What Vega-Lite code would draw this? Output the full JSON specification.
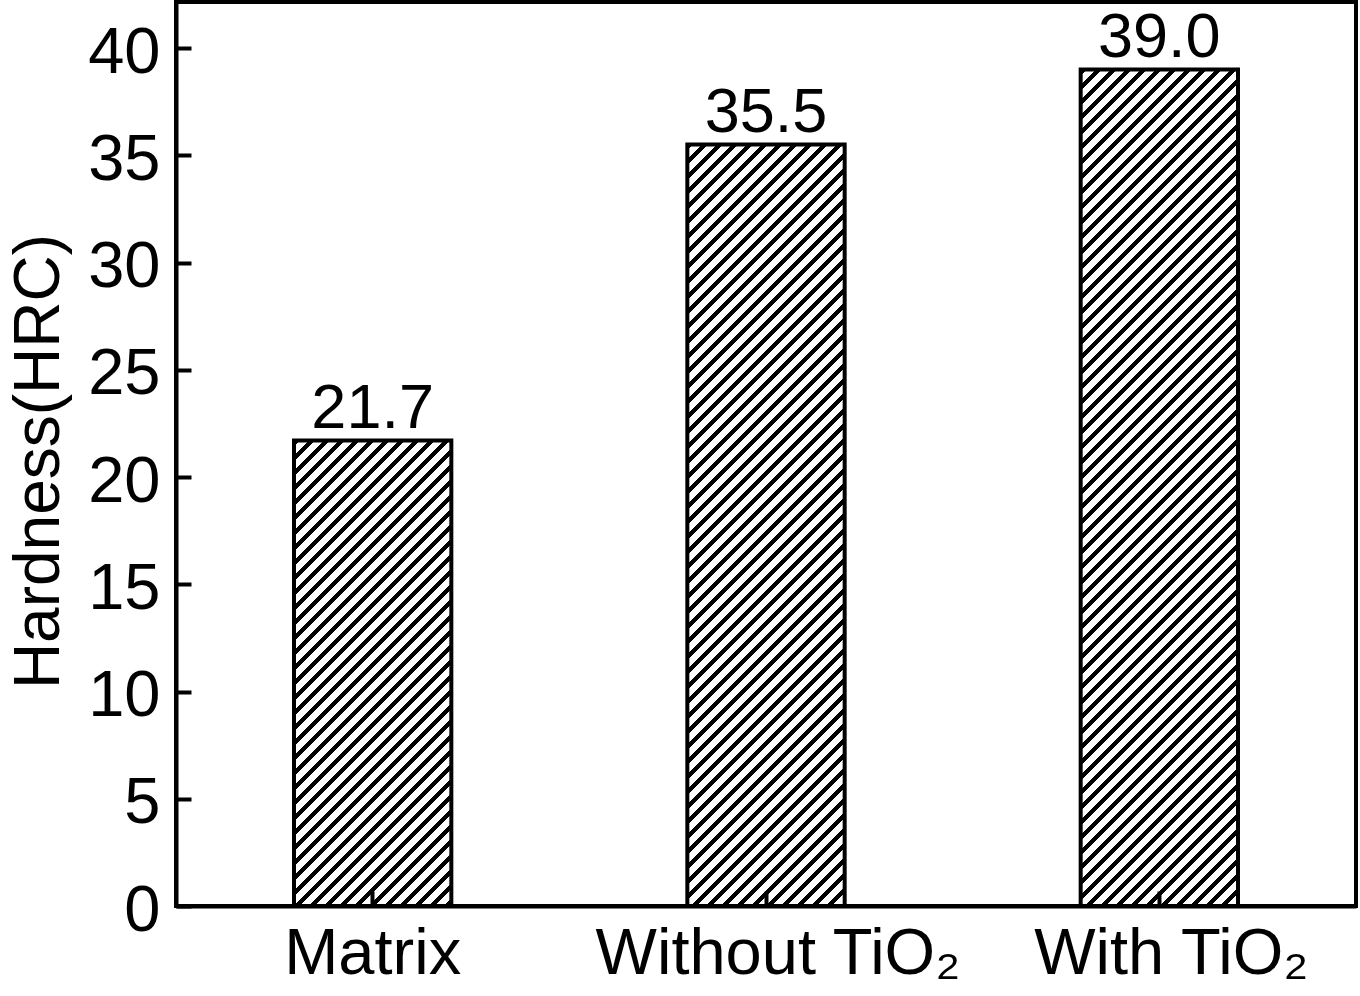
{
  "$schema": "https://vega.github.io/schema/vega-lite/v6.json",
  "autosize": {"type": "none"},
  "padding": {"left": 176, "top": 2, "right": 4, "bottom": 90},
  "width": 1180,
  "height": 904,
  "background": "white",
  "params": [
    {"name": "hatch", "value": [
      {"offset":0,"color":"#000"},{"offset":0.006,"color":"#000"},{"offset":0.006,"color":"#fff"},{"offset":0.015,"color":"#fff"},
      {"offset":0.015,"color":"#000"},{"offset":0.021,"color":"#000"},{"offset":0.021,"color":"#fff"},{"offset":0.03,"color":"#fff"},
      {"offset":0.03,"color":"#000"},{"offset":0.036,"color":"#000"},{"offset":0.036,"color":"#fff"},{"offset":0.045,"color":"#fff"},
      {"offset":0.045,"color":"#000"},{"offset":0.051,"color":"#000"},{"offset":0.051,"color":"#fff"},{"offset":0.06,"color":"#fff"},
      {"offset":0.06,"color":"#000"},{"offset":0.066,"color":"#000"},{"offset":0.066,"color":"#fff"},{"offset":0.075,"color":"#fff"},
      {"offset":0.075,"color":"#000"},{"offset":0.081,"color":"#000"},{"offset":0.081,"color":"#fff"},{"offset":0.09,"color":"#fff"},
      {"offset":0.09,"color":"#000"},{"offset":0.096,"color":"#000"},{"offset":0.096,"color":"#fff"},{"offset":0.105,"color":"#fff"},
      {"offset":0.105,"color":"#000"},{"offset":0.111,"color":"#000"},{"offset":0.111,"color":"#fff"},{"offset":0.12,"color":"#fff"},
      {"offset":0.12,"color":"#000"},{"offset":0.126,"color":"#000"},{"offset":0.126,"color":"#fff"},{"offset":0.135,"color":"#fff"},
      {"offset":0.135,"color":"#000"},{"offset":0.141,"color":"#000"},{"offset":0.141,"color":"#fff"},{"offset":0.15,"color":"#fff"},
      {"offset":0.15,"color":"#000"},{"offset":0.156,"color":"#000"},{"offset":0.156,"color":"#fff"},{"offset":0.165,"color":"#fff"},
      {"offset":0.165,"color":"#000"},{"offset":0.171,"color":"#000"},{"offset":0.171,"color":"#fff"},{"offset":0.18,"color":"#fff"},
      {"offset":0.18,"color":"#000"},{"offset":0.186,"color":"#000"},{"offset":0.186,"color":"#fff"},{"offset":0.195,"color":"#fff"},
      {"offset":0.195,"color":"#000"},{"offset":0.201,"color":"#000"},{"offset":0.201,"color":"#fff"},{"offset":0.21,"color":"#fff"},
      {"offset":0.21,"color":"#000"},{"offset":0.216,"color":"#000"},{"offset":0.216,"color":"#fff"},{"offset":0.225,"color":"#fff"},
      {"offset":0.225,"color":"#000"},{"offset":0.231,"color":"#000"},{"offset":0.231,"color":"#fff"},{"offset":0.24,"color":"#fff"},
      {"offset":0.24,"color":"#000"},{"offset":0.246,"color":"#000"},{"offset":0.246,"color":"#fff"},{"offset":0.255,"color":"#fff"},
      {"offset":0.255,"color":"#000"},{"offset":0.261,"color":"#000"},{"offset":0.261,"color":"#fff"},{"offset":0.27,"color":"#fff"},
      {"offset":0.27,"color":"#000"},{"offset":0.276,"color":"#000"},{"offset":0.276,"color":"#fff"},{"offset":0.285,"color":"#fff"},
      {"offset":0.285,"color":"#000"},{"offset":0.291,"color":"#000"},{"offset":0.291,"color":"#fff"},{"offset":0.3,"color":"#fff"},
      {"offset":0.3,"color":"#000"},{"offset":0.306,"color":"#000"},{"offset":0.306,"color":"#fff"},{"offset":0.315,"color":"#fff"},
      {"offset":0.315,"color":"#000"},{"offset":0.321,"color":"#000"},{"offset":0.321,"color":"#fff"},{"offset":0.33,"color":"#fff"},
      {"offset":0.33,"color":"#000"},{"offset":0.336,"color":"#000"},{"offset":0.336,"color":"#fff"},{"offset":0.345,"color":"#fff"},
      {"offset":0.345,"color":"#000"},{"offset":0.351,"color":"#000"},{"offset":0.351,"color":"#fff"},{"offset":0.36,"color":"#fff"},
      {"offset":0.36,"color":"#000"},{"offset":0.366,"color":"#000"},{"offset":0.366,"color":"#fff"},{"offset":0.375,"color":"#fff"},
      {"offset":0.375,"color":"#000"},{"offset":0.381,"color":"#000"},{"offset":0.381,"color":"#fff"},{"offset":0.39,"color":"#fff"},
      {"offset":0.39,"color":"#000"},{"offset":0.396,"color":"#000"},{"offset":0.396,"color":"#fff"},{"offset":0.405,"color":"#fff"},
      {"offset":0.405,"color":"#000"},{"offset":0.411,"color":"#000"},{"offset":0.411,"color":"#fff"},{"offset":0.42,"color":"#fff"},
      {"offset":0.42,"color":"#000"},{"offset":0.426,"color":"#000"},{"offset":0.426,"color":"#fff"},{"offset":0.435,"color":"#fff"},
      {"offset":0.435,"color":"#000"},{"offset":0.441,"color":"#000"},{"offset":0.441,"color":"#fff"},{"offset":0.45,"color":"#fff"},
      {"offset":0.45,"color":"#000"},{"offset":0.456,"color":"#000"},{"offset":0.456,"color":"#fff"},{"offset":0.465,"color":"#fff"},
      {"offset":0.465,"color":"#000"},{"offset":0.471,"color":"#000"},{"offset":0.471,"color":"#fff"},{"offset":0.48,"color":"#fff"},
      {"offset":0.48,"color":"#000"},{"offset":0.486,"color":"#000"},{"offset":0.486,"color":"#fff"},{"offset":0.495,"color":"#fff"},
      {"offset":0.495,"color":"#000"},{"offset":0.501,"color":"#000"},{"offset":0.501,"color":"#fff"},{"offset":0.51,"color":"#fff"},
      {"offset":0.51,"color":"#000"},{"offset":0.516,"color":"#000"},{"offset":0.516,"color":"#fff"},{"offset":0.525,"color":"#fff"},
      {"offset":0.525,"color":"#000"},{"offset":0.531,"color":"#000"},{"offset":0.531,"color":"#fff"},{"offset":0.54,"color":"#fff"},
      {"offset":0.54,"color":"#000"},{"offset":0.546,"color":"#000"},{"offset":0.546,"color":"#fff"},{"offset":0.555,"color":"#fff"},
      {"offset":0.555,"color":"#000"},{"offset":0.561,"color":"#000"},{"offset":0.561,"color":"#fff"},{"offset":0.57,"color":"#fff"},
      {"offset":0.57,"color":"#000"},{"offset":0.576,"color":"#000"},{"offset":0.576,"color":"#fff"},{"offset":0.585,"color":"#fff"},
      {"offset":0.585,"color":"#000"},{"offset":0.591,"color":"#000"},{"offset":0.591,"color":"#fff"},{"offset":0.6,"color":"#fff"},
      {"offset":0.6,"color":"#000"},{"offset":0.606,"color":"#000"},{"offset":0.606,"color":"#fff"},{"offset":0.615,"color":"#fff"},
      {"offset":0.615,"color":"#000"},{"offset":0.621,"color":"#000"},{"offset":0.621,"color":"#fff"},{"offset":0.63,"color":"#fff"},
      {"offset":0.63,"color":"#000"},{"offset":0.636,"color":"#000"},{"offset":0.636,"color":"#fff"},{"offset":0.645,"color":"#fff"},
      {"offset":0.645,"color":"#000"},{"offset":0.651,"color":"#000"},{"offset":0.651,"color":"#fff"},{"offset":0.66,"color":"#fff"},
      {"offset":0.66,"color":"#000"},{"offset":0.666,"color":"#000"},{"offset":0.666,"color":"#fff"},{"offset":0.675,"color":"#fff"},
      {"offset":0.675,"color":"#000"},{"offset":0.681,"color":"#000"},{"offset":0.681,"color":"#fff"},{"offset":0.69,"color":"#fff"},
      {"offset":0.69,"color":"#000"},{"offset":0.696,"color":"#000"},{"offset":0.696,"color":"#fff"},{"offset":0.705,"color":"#fff"},
      {"offset":0.705,"color":"#000"},{"offset":0.711,"color":"#000"},{"offset":0.711,"color":"#fff"},{"offset":0.72,"color":"#fff"},
      {"offset":0.72,"color":"#000"},{"offset":0.726,"color":"#000"},{"offset":0.726,"color":"#fff"},{"offset":0.735,"color":"#fff"},
      {"offset":0.735,"color":"#000"},{"offset":0.741,"color":"#000"},{"offset":0.741,"color":"#fff"},{"offset":0.75,"color":"#fff"},
      {"offset":0.75,"color":"#000"},{"offset":0.756,"color":"#000"},{"offset":0.756,"color":"#fff"},{"offset":0.765,"color":"#fff"},
      {"offset":0.765,"color":"#000"},{"offset":0.771,"color":"#000"},{"offset":0.771,"color":"#fff"},{"offset":0.78,"color":"#fff"},
      {"offset":0.78,"color":"#000"},{"offset":0.786,"color":"#000"},{"offset":0.786,"color":"#fff"},{"offset":0.795,"color":"#fff"},
      {"offset":0.795,"color":"#000"},{"offset":0.801,"color":"#000"},{"offset":0.801,"color":"#fff"},{"offset":0.81,"color":"#fff"},
      {"offset":0.81,"color":"#000"},{"offset":0.816,"color":"#000"},{"offset":0.816,"color":"#fff"},{"offset":0.825,"color":"#fff"},
      {"offset":0.825,"color":"#000"},{"offset":0.831,"color":"#000"},{"offset":0.831,"color":"#fff"},{"offset":0.84,"color":"#fff"},
      {"offset":0.84,"color":"#000"},{"offset":0.846,"color":"#000"},{"offset":0.846,"color":"#fff"},{"offset":0.855,"color":"#fff"},
      {"offset":0.855,"color":"#000"},{"offset":0.861,"color":"#000"},{"offset":0.861,"color":"#fff"},{"offset":0.87,"color":"#fff"},
      {"offset":0.87,"color":"#000"},{"offset":0.876,"color":"#000"},{"offset":0.876,"color":"#fff"},{"offset":0.885,"color":"#fff"},
      {"offset":0.885,"color":"#000"},{"offset":0.891,"color":"#000"},{"offset":0.891,"color":"#fff"},{"offset":0.9,"color":"#fff"},
      {"offset":0.9,"color":"#000"},{"offset":0.906,"color":"#000"},{"offset":0.906,"color":"#fff"},{"offset":0.915,"color":"#fff"},
      {"offset":0.915,"color":"#000"},{"offset":0.921,"color":"#000"},{"offset":0.921,"color":"#fff"},{"offset":0.93,"color":"#fff"},
      {"offset":0.93,"color":"#000"},{"offset":0.936,"color":"#000"},{"offset":0.936,"color":"#fff"},{"offset":0.945,"color":"#fff"},
      {"offset":0.945,"color":"#000"},{"offset":0.951,"color":"#000"},{"offset":0.951,"color":"#fff"},{"offset":0.96,"color":"#fff"},
      {"offset":0.96,"color":"#000"},{"offset":0.966,"color":"#000"},{"offset":0.966,"color":"#fff"},{"offset":0.975,"color":"#fff"},
      {"offset":0.975,"color":"#000"},{"offset":0.981,"color":"#000"},{"offset":0.981,"color":"#fff"},{"offset":0.99,"color":"#fff"},
      {"offset":0.99,"color":"#000"},{"offset":0.996,"color":"#000"},{"offset":0.996,"color":"#fff"},{"offset":1,"color":"#fff"}
    ]}
  ],
  "data": {"values": [
    {"sample": "Matrix", "hardness": 21.7},
    {"sample": "Without TiO₂", "hardness": 35.5},
    {"sample": "With TiO₂", "hardness": 39.0}
  ]},
  "encoding": {
    "x": {
      "field": "sample", "type": "nominal", "sort": null,
      "scale": {"paddingInner": 0.6, "paddingOuter": 0.3},
      "axis": {
        "title": null, "labelAngle": 0, "labelFontSize": 65, "labelPadding": 31, "labelLimit": 0,
        "tickSize": -15, "tickWidth": 4, "domainWidth": 4, "zindex": 1,
        "labelOffset": {"condition": {"test": "datum.value !== 'Matrix'", "value": 12}, "value": 0}
      }
    },
    "y": {
      "field": "hardness", "type": "quantitative",
      "scale": {"domain": [0, 42.15], "nice": false, "zero": true},
      "axis": {
        "title": "Hardness(HRC)", "values": [0, 5, 10, 15, 20, 25, 30, 35, 40],
        "labelFontSize": 65, "labelPadding": 31, "labelOffset": 4,
        "tickSize": -15, "tickWidth": 4, "domainWidth": 4, "zindex": 1, "grid": false,
        "titleFontSize": 64, "titleFontWeight": "normal", "titleX": -118, "titleY": 459,
        "titleAlign": "center", "titleBaseline": "alphabetic"
      }
    }
  },
  "layer": [
    {
      "mark": {
        "type": "bar", "stroke": "black", "strokeWidth": 4,
        "fill": {"expr": "{gradient: 'linear', x1: 0, y1: 0, x2: 1000 * bandwidth('x') / (pow(bandwidth('x'), 2) + pow(scale('y', 0) - scale('y', datum.hardness), 2)), y2: 1000 * (scale('y', 0) - scale('y', datum.hardness)) / (pow(bandwidth('x'), 2) + pow(scale('y', 0) - scale('y', datum.hardness), 2)), stops: hatch}"}
      }
    },
    {
      "mark": {"type": "text", "fontSize": 63, "baseline": "alphabetic", "dy": -13, "color": "black"},
      "encoding": {"text": {"field": "hardness", "type": "quantitative", "format": ".1f"}}
    }
  ],
  "config": {
    "font": "Liberation Sans",
    "view": {"stroke": "black", "strokeWidth": 4},
    "axis": {"domainColor": "black", "tickColor": "black", "labelColor": "black", "titleColor": "black", "labelFont": "Liberation Sans", "titleFont": "Liberation Sans"}
  }
}
